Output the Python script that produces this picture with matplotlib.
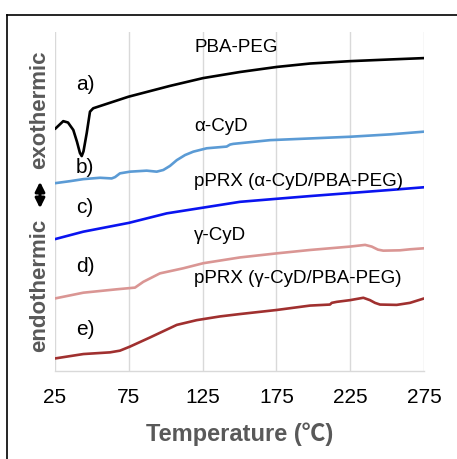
import matplotlib
matplotlib.use("Agg")
import matplotlib.pyplot as plt
from matplotlib.lines import Line2D
from matplotlib.patches import FancyArrowPatch

plt.rcParams['font.family'] = ['Liberation Sans', 'DejaVu Sans']

# Temperature (°C) and heat flow (a.u.)
t_a = [25, 30.6, 33.8, 37.4, 39.9, 41.9, 43.1, 44.3, 46.5, 48.7, 50.9, 74.7, 102.9, 125.3, 150.3, 175.4, 197.8, 224.9, 252, 275]
y_a = [71.4, 73.7, 73.3, 71.1, 67.6, 64.3, 63.4, 64.8, 70.2, 76.5, 77.5, 80.9, 84.1, 86.4, 88.2, 89.7, 90.7, 91.4, 91.9, 92.3]

t_b = [25, 35.2, 44.2, 55.5, 63.4, 65.7, 69.0, 75.8, 87.1, 93.9, 98.4, 102.9, 107.5, 113.1, 118.7, 127.8, 141.3, 143.6, 145.8, 170.7, 197.8, 224.9, 252, 275]
y_b = [55.4, 56.0, 56.6, 57.0, 56.8, 57.2, 58.3, 58.8, 59.1, 58.8, 59.3, 60.5, 62.2, 63.7, 64.7, 65.7, 66.2, 66.8, 67.0, 68.1, 68.6, 69.1, 69.8, 70.6]

t_c = [25, 44.2, 75.1, 100.7, 125.5, 150.3, 175.2, 197.8, 224.9, 252, 275]
y_c = [38.9, 41.1, 43.7, 46.5, 48.2, 49.9, 50.8, 51.6, 52.5, 53.4, 54.2]

t_d = [25, 44.2, 66.8, 79.2, 84.8, 96.1, 111.9, 125.5, 150.3, 175.2, 197.8, 224.9, 235.1, 239.6, 243.8, 247.4, 258.7, 265.5, 275]
y_d = [21.4, 23.1, 24.1, 24.6, 26.3, 28.8, 30.3, 31.8, 33.5, 34.7, 35.7, 36.7, 37.2, 36.7, 35.8, 35.5, 35.6, 35.9, 36.2]

t_e = [25, 44.2, 62.3, 69.0, 75.8, 89.4, 107.5, 121.0, 136.8, 150.3, 175.2, 197.8, 211.3, 212.5, 215.9, 224.9, 233.9, 238.4, 241.8, 245.2, 256.5, 265.5, 275]
y_e = [3.7, 5.0, 5.5, 6.0, 7.2, 9.9, 13.6, 15.0, 16.1, 16.8, 18.0, 19.3, 19.6, 20.1, 20.4, 20.9, 21.6, 20.9, 20.1, 19.6, 19.5, 20.1, 21.4]

series = [
    (t_a, y_a, "#000000"),
    (t_b, y_b, "#5B9BD5"),
    (t_c, y_c, "#0A14F0"),
    (t_d, y_d, "#DA9694"),
    (t_e, y_e, "#A0302F"),
]

names = ["PBA-PEG", "α-CyD", "pPRX (α-CyD/PBA-PEG)", "γ-CyD", "pPRX (γ-CyD/PBA-PEG)"]
name_y = [95.3, 72.0, 55.8, 40.1, 27.4]
letters = ["a)", "b)", "c)", "d)", "e)"]
letter_y = [84.5, 59.9, 48.1, 30.7, 12.1]

xticks = [25, 75, 125, 175, 225, 275]

fig = plt.figure(figsize=(4.57, 4.59), dpi=100)
ax = fig.add_axes([55/457, 1-371/459, 369/457, 339/459])

for t, y, c in series:
    ax.plot(t, y, color=c, lw=1.9, solid_joinstyle='round', solid_capstyle='round')

for n, yy in zip(names, name_y):
    ax.text(119.2, yy, n, fontsize=13.5, ha='left', va='center', color='black')
for l, yy in zip(letters, letter_y):
    ax.text(39.2, yy, l, fontsize=15, ha='left', va='center', color='black')

ax.set_xlim(25, 275)
ax.set_ylim(0, 100)
ax.set_xticks(xticks)
ax.set_xticklabels([str(v) for v in xticks])
ax.set_yticks([])
ax.tick_params(axis='x', length=0, pad=12, labelsize=15)
ax.grid(axis='x', color='#D9D9D9', lw=1)
ax.set_axisbelow(True)
for s in ['top', 'right', 'left']:
    ax.spines[s].set_visible(False)
ax.spines['bottom'].set_color('#D9D9D9')
ax.spines['bottom'].set_linewidth(1)

fig.text(240/457, 1-434/459, "Temperature (℃)", fontsize=17, fontweight='bold',
         color='#595959', ha='center', va='center',
         family=['Liberation Sans', 'Noto Sans CJK JP', 'DejaVu Sans'])

fig.text(40/457, 1-110/459, "exothermic", rotation=90, fontsize=16, fontweight='bold',
         color='#595959', ha='center', va='center')
fig.text(40/457, 1-285/459, "endothermic", rotation=90, fontsize=16, fontweight='bold',
         color='#595959', ha='center', va='center')
fig.add_artist(FancyArrowPatch(
    (40/457, 1-179/459), (40/457, 1-211/459), transform=fig.transFigure,
    arrowstyle='<|-|>', mutation_scale=14, color='black', lw=2.2))

fig.add_artist(Line2D([7.5/457, 7.5/457], [0, 1-14.7/459], transform=fig.transFigure,
                      color='black', lw=1.2))
fig.add_artist(Line2D([7.5/457, 1.0], [1-14.7/459, 1-14.7/459], transform=fig.transFigure,
                      color='black', lw=1.2))

fig.savefig("out.png", dpi=100)
